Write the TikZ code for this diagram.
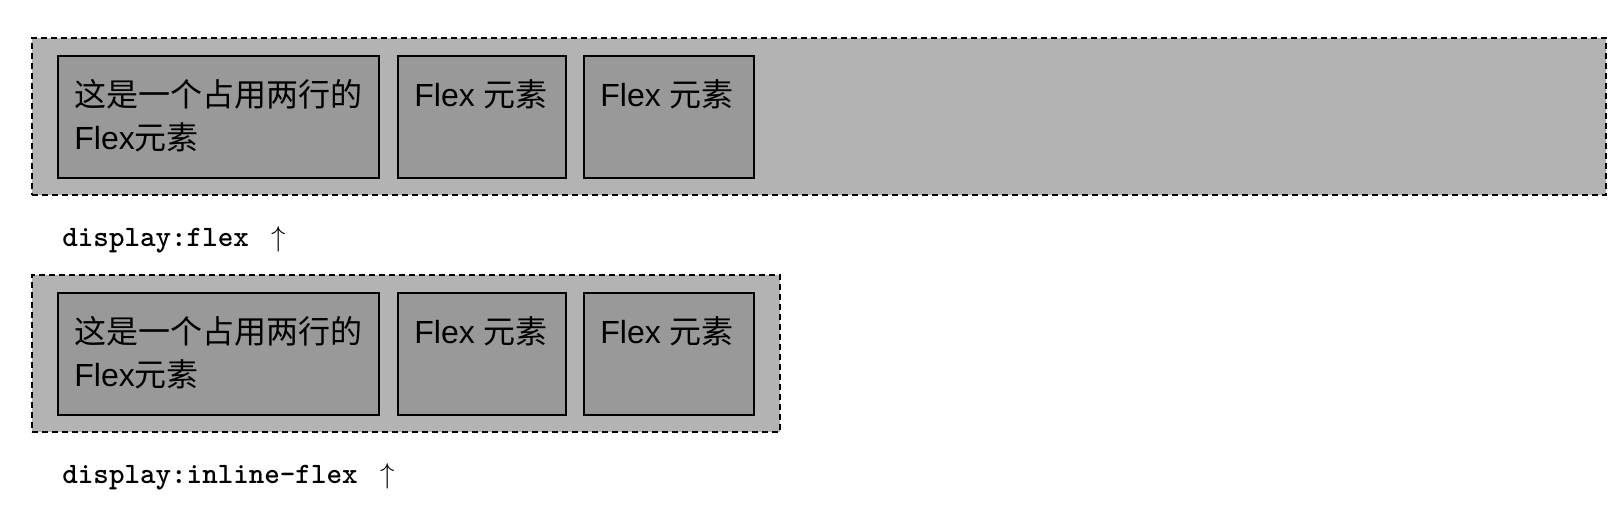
\documentclass[tikz,border=0pt]{standalone}
\usepackage{fontspec}
\setmainfont{Liberation Sans}
\newfontfamily\cjk{Noto Sans CJK SC}
\definecolor{boxgray}{RGB}{179,179,179}
\definecolor{itemgray}{RGB}{153,153,153}

\begin{document}
\begin{tikzpicture}[x=0.5pt, y=-0.5pt,
  container/.style={rectangle, draw, fill=boxgray, line width=1pt, dash pattern=on 3pt off 2pt, anchor=north west, inner sep=0pt, minimum height=78.5pt},
  item/.style={rectangle, draw, fill=itemgray, line width=1pt, anchor=north west, inner sep=0pt, minimum height=61pt},
  itemtext/.style={anchor=north west, inner sep=0pt, align=left, font=\fontsize{16}{21.5}\selectfont},
  caption/.style={anchor=base west, inner sep=0pt, font=\fontsize{14.8}{17}\selectfont\ttfamily\bfseries}]
\useasboundingbox (0,0) rectangle (1624,514);

% display:flex
\node[container, minimum width=787pt] (flexbox) at (31,37) {};
\node[item, minimum width=160.5pt] (flexa) at (57,55) {};
\node[item, minimum width=84pt] (flexb) at (397,55) {};
\node[item, minimum width=85pt] (flexc) at (583,55) {};
\node[itemtext] (flexatext) at (74,79) {{\cjk 这是一个占用两行的}\\Flex{\cjk 元素}};
\node[itemtext] (flexbtext) at (414,79) {Flex {\cjk 元素}};
\node[itemtext] (flexctext) at (600,79) {Flex {\cjk 元素}};
\node[caption] (flexcap) at (62,246) {display:flex\hspace{3.5pt} $\uparrow$};

% display:inline-flex
\node[container, minimum width=374pt] (inlinebox) at (31,274) {};
\node[item, minimum width=160.5pt] (inlinea) at (57,292) {};
\node[item, minimum width=84pt] (inlineb) at (397,292) {};
\node[item, minimum width=85pt] (inlinec) at (583,292) {};
\node[itemtext] (inlineatext) at (74,316) {{\cjk 这是一个占用两行的}\\Flex{\cjk 元素}};
\node[itemtext] (inlinebtext) at (414,316) {Flex {\cjk 元素}};
\node[itemtext] (inlinectext) at (600,316) {Flex {\cjk 元素}};
\node[caption] (inlinecap) at (62,483) {display:inline-flex\hspace{3.5pt} $\uparrow$};
\end{tikzpicture}
\end{document}
